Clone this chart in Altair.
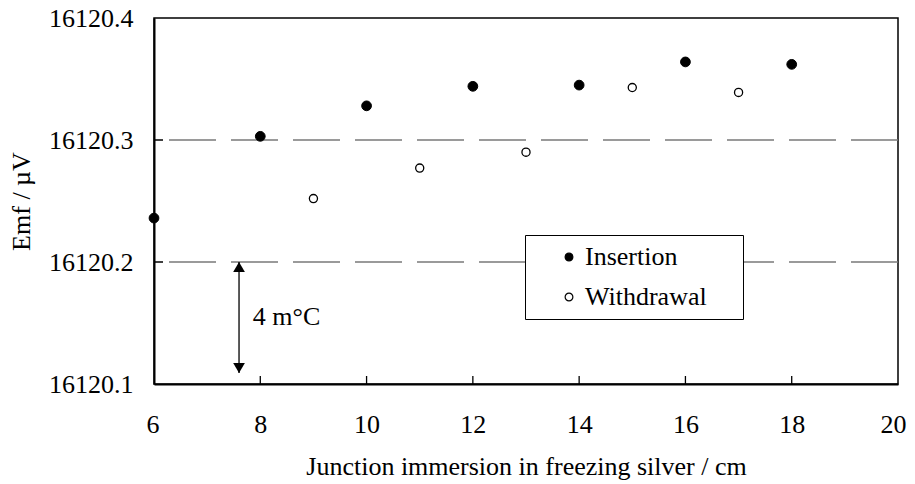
import altair as alt
import pandas as pd

# ---- data ----
ins_x = [6, 8, 10, 12, 14, 16, 18]
ins_y = [16120.236, 16120.303, 16120.328, 16120.344, 16120.345, 16120.364, 16120.362]
wd_x = [9, 11, 13, 15, 17]
wd_y = [16120.252, 16120.277, 16120.290, 16120.343, 16120.339]
series = ["Insertion", "Withdrawal"]

x_ticks = [6, 8, 10, 12, 14, 16, 18, 20]
y_ticks = [16120.1, 16120.2, 16120.3, 16120.4]
grid_y = [16120.2, 16120.3]
inner_x_ticks = [8, 10, 12, 14, 16, 18]
inner_y_ticks = [16120.2, 16120.3]

arrow_x = [7.6]
arrow_top = [16120.2]
arrow_bottom = [16120.109]
note_text = ["4 m°C"]
note_x = [7.86]
note_y = [16120.155]

W, H = 744, 366
FONT = "Liberation Serif"

pts = pd.DataFrame({
    "x": ins_x + wd_x,
    "y": ins_y + wd_y,
    "series": [series[0]] * len(ins_x) + [series[1]] * len(wd_x),
})
grid_df = pd.DataFrame({"y": grid_y})
xt_df = pd.DataFrame({"x": inner_x_ticks})
yt_df = pd.DataFrame({"y": inner_y_ticks})
arrow_df = pd.DataFrame({"x": arrow_x, "y": arrow_top, "y2": arrow_bottom})
note_df = pd.DataFrame({"x": note_x, "y": note_y, "t": note_text})

xscale = alt.Scale(domain=[6, 20], nice=False, zero=False)
yscale = alt.Scale(domain=[16120.1, 16120.4], nice=False, zero=False)

xaxis = alt.Axis(values=x_ticks, ticks=False, tickSize=0, labelPadding=27,
                 labelFont=FONT, labelFontSize=26, labelColor="black",
                 labelFlush=True, labelFlushOffset=8,
                 title="Junction immersion in freezing silver / cm",
                 titleFont=FONT, titleFontSize=26, titleFontWeight="normal", titleColor="black",
                 titlePadding=16, domainColor="black", domainWidth=2, grid=False)
yaxis = alt.Axis(values=y_ticks, format=".1f", ticks=False, tickSize=0, labelPadding=21,
                 labelFont=FONT, labelFontSize=26, labelColor="black", labelFlush=False,
                 title="Emf / µV", titleFont=FONT, titleFontSize=26, titleFontWeight="normal",
                 titleColor="black", titlePadding=14,
                 domainColor="black", domainWidth=2, grid=False)

X = alt.X("x:Q", scale=xscale, axis=xaxis)
Y = alt.Y("y:Q", scale=yscale, axis=yaxis)

grid = alt.Chart(grid_df).mark_rule(color="#7a7a7a", strokeWidth=1.3, strokeDash=[47, 15]).encode(y=Y)

xticks = alt.Chart(xt_df).mark_rule(color="black", strokeWidth=1.3).encode(
    x=X, y=alt.value(H - 8), y2=alt.value(H))
yticks = alt.Chart(yt_df).mark_rule(color="black", strokeWidth=1.5).encode(
    y=Y, x=alt.value(0), x2=alt.value(9))

fill_scale = alt.Scale(domain=series, range=["black", "white"])
legend = alt.Legend(orient="none", legendX=371, legendY=217,
                    title="-", titleOrient="right", titleColor="white", titleFontSize=8,
                    titlePadding=24,
                    labelFontSize=26, labelColor="black", labelFont=FONT,
                    symbolType="circle", symbolSize=60, symbolStrokeColor="black",
                    symbolStrokeWidth=1.2, symbolOffset=22, labelOffset=3,
                    padding=9, rowPadding=14, strokeColor="black", fillColor="white")

ins = alt.Chart(pts).transform_filter(alt.datum.series == series[0]).mark_point(
    filled=True, shape="circle", size=95, stroke="black", strokeWidth=1, opacity=1
).encode(x=X, y=Y, fill=alt.Fill("series:N", scale=fill_scale, legend=legend))

wd = alt.Chart(pts).transform_filter(alt.datum.series == series[1]).mark_point(
    filled=True, shape="circle", size=66, stroke="black", strokeWidth=1.3, opacity=1
).encode(x=X, y=Y, fill=alt.Fill("series:N", scale=fill_scale, legend=legend))

arrow_line = alt.Chart(arrow_df).mark_rule(color="black", strokeWidth=1.3).encode(
    x=X, y=Y, y2="y2:Q")
arrow_up = alt.Chart(arrow_df).mark_point(shape="triangle-up", filled=True, color="black",
                                          size=137, yOffset=5, opacity=1).encode(x=X, y=Y)
arrow_down = alt.Chart(arrow_df).mark_point(shape="triangle-down", filled=True, color="black",
                                            size=137, yOffset=-5, opacity=1).encode(
    x=X, y=alt.Y("y2:Q", scale=yscale, axis=yaxis))
note = alt.Chart(note_df).mark_text(align="left", baseline="middle", fontSize=26,
                                    font=FONT, color="black").encode(x=X, y=Y, text="t:N")

chart = alt.layer(grid, xticks, yticks, arrow_line, arrow_up, arrow_down, note, ins, wd).properties(
    width=W, height=H,
    autosize=alt.AutoSizeParams(type="none"),
    padding={"left": 146, "top": 10, "right": 9, "bottom": 99},
).configure(
    font=FONT, background="white",
    view=alt.ViewConfig(stroke="black", strokeWidth=1.5),
)

chart.save("out.html", embed_options={"renderer": "svg", "actions": False})
